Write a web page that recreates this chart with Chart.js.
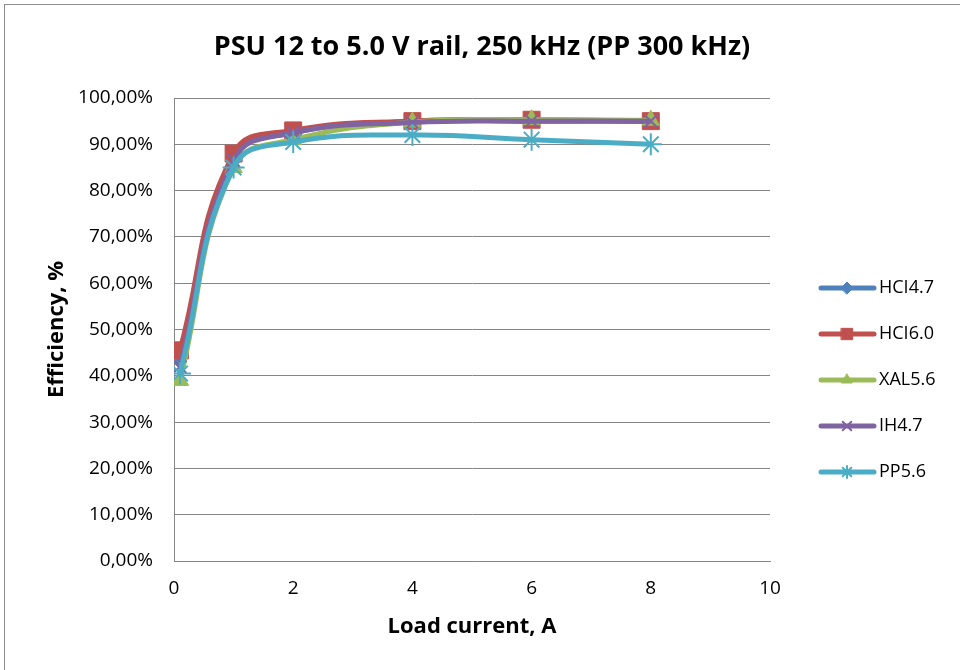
<!DOCTYPE html>
<html>
<head>
<meta charset="utf-8">
<script src="https://cdn.jsdelivr.net/npm/chart.js@4/dist/chart.umd.min.js"></script>
<style>
html,body{margin:0;padding:0;background:#fff;}
#wrap{position:relative;width:960px;height:670px;}
</style>
</head>
<body>
<div id="wrap"><canvas id="c" width="960" height="670"></canvas></div>
<script>
const chartTitle = 'PSU 12 to 5.0 V rail, 250 kHz (PP 300 kHz)';
const xTitle = 'Load current, A';
const yTitle = 'Efficiency, %';
const loadCurrent = [0.1, 1, 2, 4, 6, 8];
const seriesNames = ['HCI4.7', 'HCI6.0', 'XAL5.6', 'IH4.7', 'PP5.6'];
const hci47 = [43.0, 87.0, 92.5, 95.0, 95.0, 95.0];
const hci60 = [45.5, 88.0, 93.0, 95.0, 95.3, 95.0];
const xal56 = [39.0, 85.0, 91.0, 94.8, 95.3, 95.2];
const ih47  = [42.0, 86.5, 92.5, 94.7, 95.0, 95.0];
const pp56  = [40.5, 85.0, 90.5, 92.0, 91.0, 90.0];
const xTicks = [0, 2, 4, 6, 8, 10];

const colors = ['#4F81BD', '#C0504D', '#9BBB59', '#8064A2', '#4BACC6'];
const styles = ['rectRot', 'rect', 'triangle', 'crossRot', 'star'];
const radii = [7, 12, 10, 9, 11];
const FONT = '"Open Sans", sans-serif';
const allSeries = [hci47, hci60, xal56, ih47, pp56];

const datasets = allSeries.map((vals, i) => ({
  label: seriesNames[i],
  data: vals.map((v, j) => ({x: loadCurrent[j], y: v})),
  borderColor: colors[i],
  backgroundColor: colors[i],
  borderWidth: 5,
  pointStyle: styles[i],
  pointRadius: radii[i],
  pointBorderWidth: (styles[i] === 'crossRot' || styles[i] === 'star') ? 2 : 1,
  pointBorderColor: colors[i],
  pointBackgroundColor: colors[i],
  tension: 0.45,
  order: 5 - i
}));

const legendPlugin = {
  id: 'customLegend',
  afterDraw(chart) {
    const ctx = chart.ctx;
    ctx.save();
    ctx.strokeStyle = '#8c8c8c';
    ctx.lineWidth = 1;
    ctx.strokeRect(4.5, 4.5, 1000, 1000);
    ctx.fillStyle = '#000';
    ctx.font = 'bold 27px ' + FONT;
    ctx.textAlign = 'center';
    ctx.textBaseline = 'middle';
    ctx.fillText(chartTitle, 482, 47);
    chart.data.datasets.forEach((ds, i) => {
      const y = 288 + i * 46;
      ctx.strokeStyle = ds.borderColor;
      ctx.lineWidth = 5;
      ctx.lineCap = 'round';
      ctx.beginPath();
      ctx.moveTo(821, y);
      ctx.lineTo(874, y);
      ctx.stroke();
      ctx.fillStyle = ds.borderColor;
      ctx.strokeStyle = ds.borderColor;
      ctx.lineWidth = (ds.pointStyle === 'crossRot' || ds.pointStyle === 'star') ? 2 : 1;
      Chart.helpers.drawPoint(ctx, {pointStyle: ds.pointStyle, radius: ds.pointStyle === 'rect' ? 8 : 6, rotation: 0, borderWidth: ctx.lineWidth}, 847, y);
      ctx.fillStyle = '#000';
      ctx.font = '18px ' + FONT;
      ctx.textAlign = 'left';
      ctx.textBaseline = 'middle';
      ctx.fillText(ds.label, 879, y);
    });
    ctx.restore();
  }
};

new Chart(document.getElementById('c'), {
  type: 'line',
  data: {datasets},
  options: {
    responsive: false,
    animation: false,
    layout: {padding: {left: 0, top: 98, right: 190, bottom: 0}},
    plugins: {legend: {display: false}, title: {display: false}, tooltip: {enabled: false}},
    scales: {
      x: {
        type: 'linear',
        min: 0, max: 10,
        afterBuildTicks(scale) { scale.ticks = xTicks.map(v => ({value: v})); },
        afterFit(scale) { scale.height = 109; },
        grid: {display: false, drawTicks: false},
        border: {display: true, color: '#868686', width: 1},
        ticks: {color: '#000', font: {family: FONT, size: 19}, padding: 16, maxRotation: 0},
        title: {display: true, text: xTitle, color: '#000', font: {family: FONT, size: 22, weight: 'bold'}, padding: {top: 0, bottom: 30}}
      },
      y: {
        min: 0, max: 100,
        afterFit(scale) { scale.width = 174; },
        grid: {color: '#868686', lineWidth: 1, drawTicks: false},
        border: {display: true, color: '#868686', width: 1},
        ticks: {stepSize: 10, color: '#000', font: {family: FONT, size: 19}, padding: 21,
          callback: v => v.toFixed(2).replace('.', ',') + '%'},
        title: {display: true, text: yTitle, color: '#000', font: {family: FONT, size: 22, weight: 'bold'}, padding: {top: 44, bottom: 0}}
      }
    }
  },
  plugins: [legendPlugin]
});
</script>
</body>
</html>
